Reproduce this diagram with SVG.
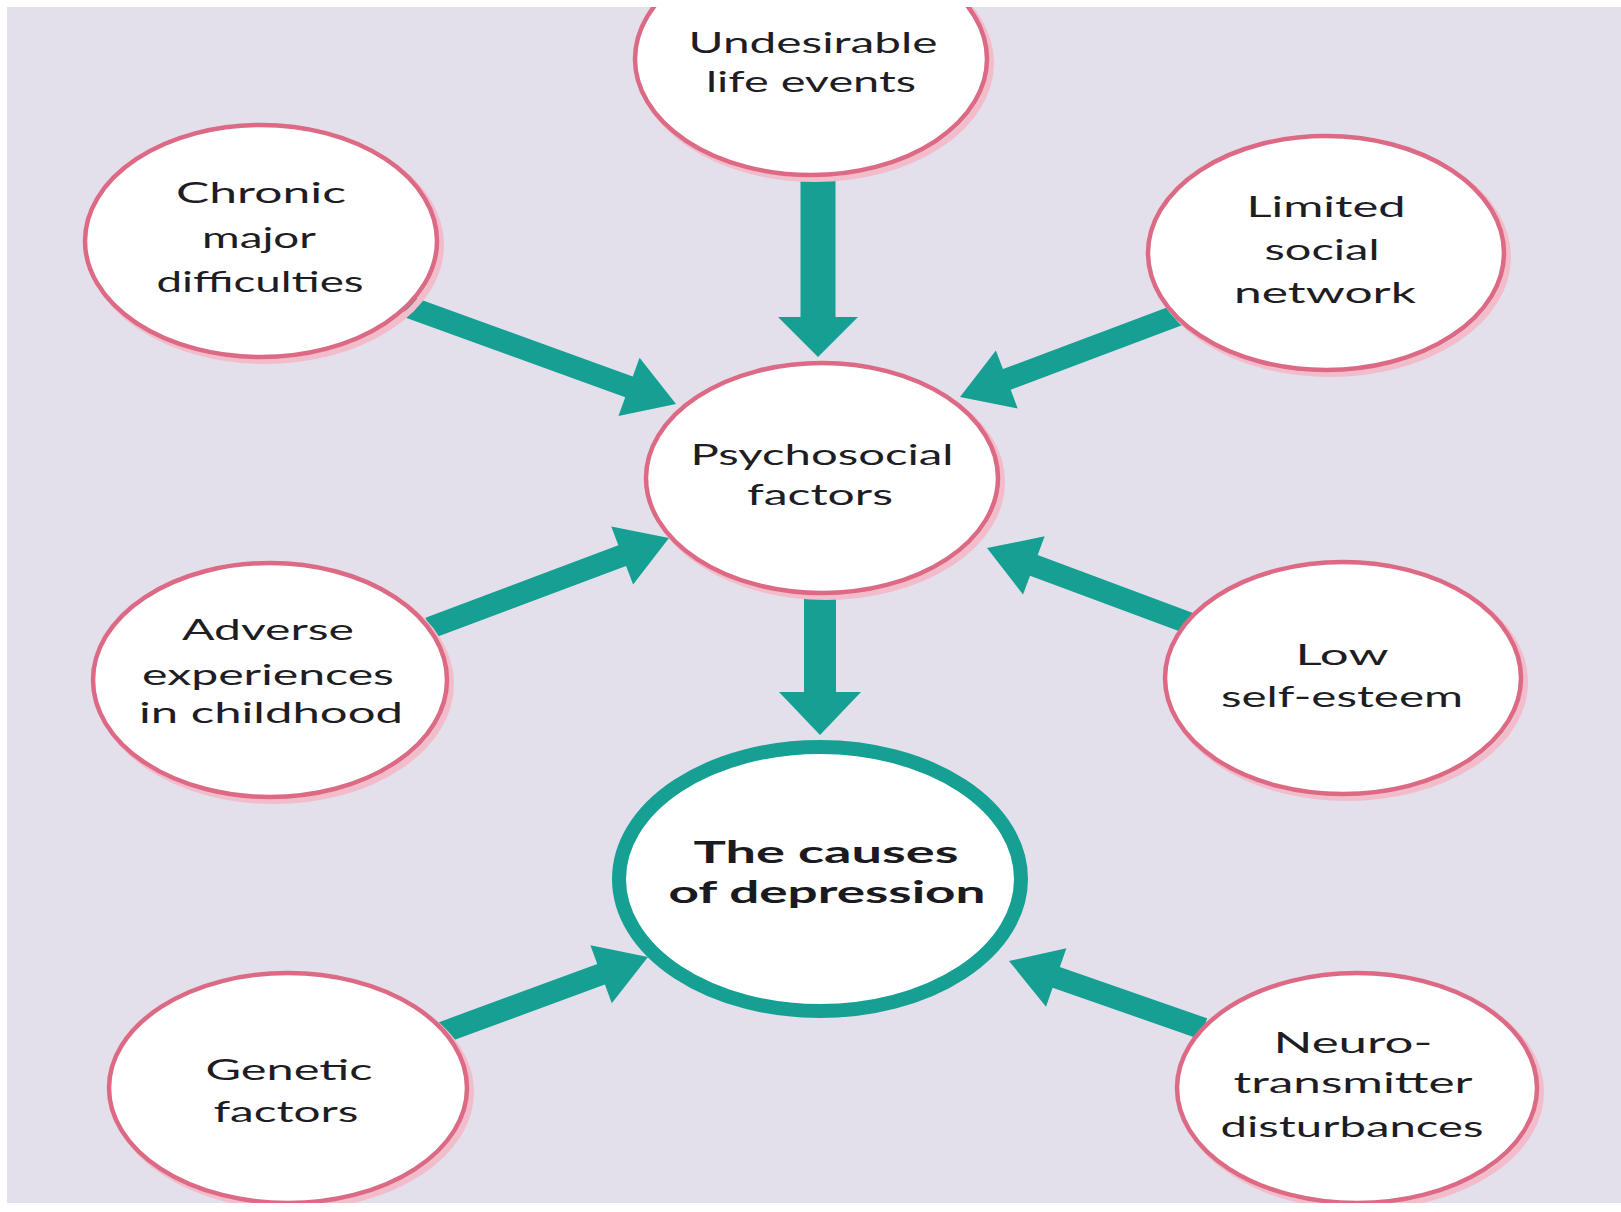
<svg xmlns="http://www.w3.org/2000/svg" width="1621" height="1212" viewBox="0 0 1621 1212">
  <style>
    .bg { fill: #e3dfeb; }
    .halo { fill: none; stroke: #f3bccb; stroke-width: 6; }
    .ring { fill: #ffffff; stroke: #dc6a84; stroke-width: 4.5; }
    .core { fill: #ffffff; stroke: #16a093; stroke-width: 14; }
    .arrow { fill: #16a093; }
    .lbl { font-family: Lato, "Open Sans", "Liberation Sans", sans-serif; font-size: 29px; fill: #1e1d24; text-anchor: middle; }
    .lbl-b { font-family: Lato, "Open Sans", "Liberation Sans", sans-serif; font-size: 31px; font-weight: bold; fill: #1a1a1f; text-anchor: middle; }
  </style>

  <rect x="0" y="0" width="1621" height="1212" fill="#ffffff"/>
  <rect class="bg" x="7" y="7" width="1614" height="1196"/>

  <!-- block arrows: path drawn with tip at origin pointing along +x -->
  <g id="connectors">
    <path class="arrow" transform="translate(818,357) rotate(90)" d="M -190,-17.5 H -40 V -40 L 0,0 L -40,40 V 17.5 H -190 Z"/>
    <path class="arrow" transform="translate(820,735) rotate(90)" d="M -145,-16 H -43 V -41 L 0,0 L -43,41 V 16 H -145 Z"/>
    <path class="arrow" transform="translate(676,404) rotate(19.95)" d="M -287,-11 H -50 V -31 L 0,0 L -50,31 V 11 H -287 Z"/>
    <path class="arrow" transform="translate(960,397) rotate(159.4)" d="M -233,-11 H -50 V -31 L 0,0 L -50,31 V 11 H -233 Z"/>
    <path class="arrow" transform="translate(669,538) rotate(-20.6)" d="M -256,-11 H -50 V -31 L 0,0 L -50,31 V 11 H -256 Z"/>
    <path class="arrow" transform="translate(987,548) rotate(-159.6)" d="M -215,-11 H -50 V -31 L 0,0 L -50,31 V 11 H -215 Z"/>
    <path class="arrow" transform="translate(648,957) rotate(-20.2)" d="M -223,-11 H -50 V -31 L 0,0 L -50,31 V 11 H -223 Z"/>
    <path class="arrow" transform="translate(1009,961) rotate(-160.8)" d="M -206,-11 H -50 V -31 L 0,0 L -50,31 V 11 H -206 Z"/>
  </g>

  <g id="node-undesirable">
    <ellipse class="halo" cx="815" cy="63" rx="176" ry="116"/>
    <ellipse class="ring" cx="811" cy="59" rx="176" ry="116"/>
    <text class="lbl" x="813" y="53" textLength="249" lengthAdjust="spacingAndGlyphs">Undesirable</text>
    <text class="lbl" x="811" y="92" textLength="210" lengthAdjust="spacingAndGlyphs">life events</text>
  </g>

  <g id="node-chronic">
    <ellipse class="halo" cx="265" cy="245" rx="176" ry="116"/>
    <ellipse class="ring" cx="261" cy="241" rx="176" ry="116"/>
    <text class="lbl" x="261" y="203" textLength="170" lengthAdjust="spacingAndGlyphs">Chronic</text>
    <text class="lbl" x="259" y="248" textLength="114" lengthAdjust="spacingAndGlyphs">major</text>
    <text class="lbl" x="260" y="292" textLength="207" lengthAdjust="spacingAndGlyphs">difficulties</text>
  </g>

  <g id="node-limited">
    <ellipse class="halo" cx="1330" cy="257" rx="178" ry="117"/>
    <ellipse class="ring" cx="1326" cy="253" rx="178" ry="117"/>
    <text class="lbl" x="1326" y="217" textLength="159" lengthAdjust="spacingAndGlyphs">Limited</text>
    <text class="lbl" x="1322" y="260" textLength="115" lengthAdjust="spacingAndGlyphs">social</text>
    <text class="lbl" x="1325" y="303" textLength="182" lengthAdjust="spacingAndGlyphs">network</text>
  </g>

  <g id="node-psychosocial">
    <ellipse class="halo" cx="826" cy="482" rx="176" ry="115"/>
    <ellipse class="ring" cx="822" cy="478" rx="176" ry="115"/>
    <text class="lbl" x="822" y="465" textLength="263" lengthAdjust="spacingAndGlyphs">Psychosocial</text>
    <text class="lbl" x="820" y="505" textLength="146" lengthAdjust="spacingAndGlyphs">factors</text>
  </g>

  <g id="node-adverse">
    <ellipse class="halo" cx="274" cy="684" rx="177" ry="117"/>
    <ellipse class="ring" cx="270" cy="680" rx="177" ry="117"/>
    <text class="lbl" x="268" y="640" textLength="172" lengthAdjust="spacingAndGlyphs">Adverse</text>
    <text class="lbl" x="268" y="685" textLength="252" lengthAdjust="spacingAndGlyphs">experiences</text>
    <text class="lbl" x="271" y="723" textLength="264" lengthAdjust="spacingAndGlyphs">in childhood</text>
  </g>

  <g id="node-low">
    <ellipse class="halo" cx="1347" cy="682" rx="178" ry="116"/>
    <ellipse class="ring" cx="1343" cy="678" rx="178" ry="116"/>
    <text class="lbl" x="1342" y="665" textLength="93" lengthAdjust="spacingAndGlyphs">Low</text>
    <text class="lbl" x="1342" y="707" textLength="242" lengthAdjust="spacingAndGlyphs">self-esteem</text>
  </g>

  <g id="node-causes">
    <ellipse class="core" cx="820" cy="879" rx="201" ry="132"/>
    <text class="lbl-b" x="826" y="863" textLength="265" lengthAdjust="spacingAndGlyphs">The causes</text>
    <text class="lbl-b" x="827" y="903" textLength="317" lengthAdjust="spacingAndGlyphs">of depression</text>
  </g>

  <g id="node-genetic">
    <ellipse class="halo" cx="292" cy="1092" rx="179" ry="115"/>
    <ellipse class="ring" cx="288" cy="1088" rx="179" ry="115"/>
    <text class="lbl" x="289" y="1080" textLength="167" lengthAdjust="spacingAndGlyphs">Genetic</text>
    <text class="lbl" x="286" y="1122" textLength="145" lengthAdjust="spacingAndGlyphs">factors</text>
  </g>

  <g id="node-neuro">
    <ellipse class="halo" cx="1361" cy="1092" rx="180" ry="115"/>
    <ellipse class="ring" cx="1357" cy="1088" rx="180" ry="115"/>
    <text class="lbl" x="1353" y="1053" textLength="159" lengthAdjust="spacingAndGlyphs">Neuro-</text>
    <text class="lbl" x="1353" y="1093" textLength="239" lengthAdjust="spacingAndGlyphs">transmitter</text>
    <text class="lbl" x="1352" y="1137" textLength="263" lengthAdjust="spacingAndGlyphs">disturbances</text>
  </g>

  <!-- white frame strips over the page edges -->
  <rect x="0" y="0" width="1621" height="7" fill="#ffffff"/>
  <rect x="0" y="1203" width="1621" height="9" fill="#ffffff"/>
</svg>
